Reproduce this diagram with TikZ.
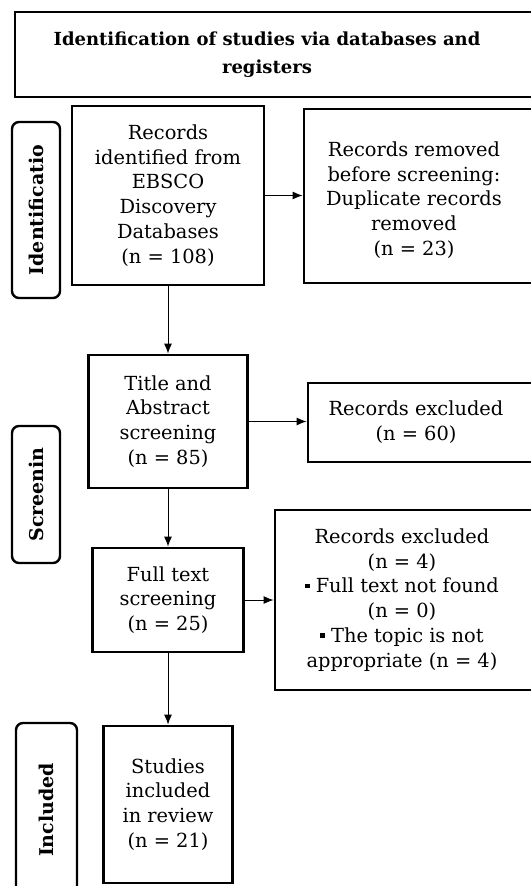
\documentclass[tikz,border=0pt]{standalone}
\usepackage{fontspec}
\setmainfont{DejaVu Serif}
\usetikzlibrary{arrows.meta}

\begin{document}
\begin{tikzpicture}[x=1bp, y=-1bp,
        box/.style={draw=black, line width=2.8bp},
        side/.style={draw=black, line width=2.4bp, rounded corners=7bp, rotate=90,
            font=\bfseries\fontsize{19bp}{22bp}\selectfont},
        txt/.style={align=center, font=\fontsize{19.4bp}{24.8bp}\selectfont},
        arr/.style={-{Latex[length=10bp,width=8bp]}, line width=1bp}]
        \useasboundingbox (0,0) rectangle (531,886);

        % heading
        \node[box, minimum width=530bp, minimum height=85bp] (head) at (280,54.5) {};
        \node[txt, font=\bfseries\fontsize{18bp}{28bp}\selectfont] (headtxt) at (267,55)
            {Identification of studies via databases and\\registers};

        % phase labels
        \node[side, minimum width=176bp, minimum height=48bp] (idlab) at (36,210) {Identificatio};
        \node[side, minimum width=137bp, minimum height=48bp] (scrlab) at (36,494.5) {Screenin};
        \node[side, minimum width=174bp, minimum height=61bp] (inclab) at (46.5,810) {Included};

        % main column
        \node[box, txt, minimum width=192bp, minimum height=179bp] (rec) at (168,195.5)
            {Records\\identified from\\EBSCO\\Discovery\\Databases\\(n = 108)};
        \node[box, txt, minimum width=159bp, minimum height=133bp] (title) at (168,421.5)
            {Title and\\Abstract\\screening\\(n = 85)};
        \node[box, txt, minimum width=151bp, minimum height=104bp] (full) at (168,600)
            {Full text\\screening\\(n = 25)};
        \node[box, txt, minimum width=129bp, minimum height=157bp] (stud) at (168,804.5)
            {Studies\\included\\in review\\(n = 21)};

        % side boxes
        \node[box, minimum width=241bp, minimum height=174bp] (rem) at (424.5,196) {};
        \node[txt] (remtxt) at (414,200)
            {Records removed\\before screening:\\Duplicate records\\removed\\(n = 23)};
        \node[box, minimum width=237bp, minimum height=79bp] (exc1) at (426.5,422.5) {};
        \node[txt] (exc1txt) at (416,422) {Records excluded\\(n = 60)};
        \node[box, minimum width=270bp, minimum height=180bp] (exc2) at (410,600) {};
        \node[txt] (exc2txt) at (402,600)
            {Records excluded\\(n = 4)\\\raisebox{0.25em}{\rule{4.5bp}{4.5bp}} Full text not found\\(n = 0)\\
             \raisebox{0.25em}{\rule{4.5bp}{4.5bp}} The topic is not\\appropriate (n = 4)};

        % connectors
        \draw[arr] (rec.south) -- (rec.south |- title.north);
        \draw[arr] (title.south) -- (title.south |- full.north);
        \draw[arr] (full.south) -- (full.south |- stud.north);
        \draw[arr] (rec.east) -- (rec.east -| rem.west);
        \draw[arr] (title.east) -- (title.east -| exc1.west);
        \draw[arr] (full.east) -- (full.east -| exc2.west);
    \end{tikzpicture}
\end{document}
